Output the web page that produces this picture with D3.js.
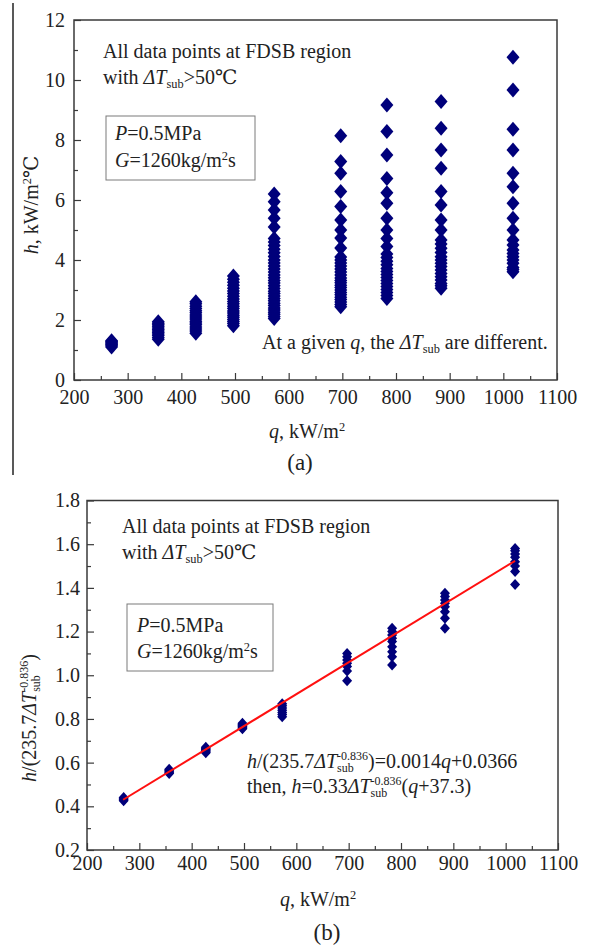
<!DOCTYPE html>
<html>
<head>
<meta charset="utf-8">
<script src="https://cdn.jsdelivr.net/npm/d3@7"></script>
<style>
    body { margin: 0; background: #fff; }
    svg text { font-family: "Liberation Serif", "Times New Roman", Times, "DejaVu Serif", serif !important; fill: #222; }
</style>
</head>
<body>
<svg id="fig" width="593" height="947"></svg>
<script>
    // heat flux levels, kW/m2 (one column of points per level)
    var qLevels = [270, 357, 427, 497, 573, 697, 783, 884, 1018];

    // panel (a): h, kW/m2C, read per column
    var hAt270 = [1.10, 1.14, 1.18, 1.21, 1.25, 1.28, 1.31];
    var hAt357 = [1.36, 1.42, 1.48, 1.53, 1.58, 1.63, 1.68, 1.73, 1.79, 1.84, 1.89, 1.94];
    var hAt427 = [1.56, 1.63, 1.70, 1.77, 1.84, 1.90, 1.96, 2.03, 2.10, 2.17, 2.24, 2.31, 2.38, 2.46, 2.54, 2.61];
    var hAt497 = [1.81, 1.88, 1.95, 2.02, 2.09, 2.16, 2.23, 2.30, 2.38, 2.46, 2.54, 2.62, 2.70, 2.79, 2.88, 2.97, 3.06, 3.16, 3.26, 3.36, 3.47];
    var hAt573 = [2.05, 2.12, 2.19, 2.26, 2.33, 2.40, 2.48, 2.56, 2.64, 2.72, 2.80, 2.88, 2.96, 3.05, 3.14, 3.23, 3.32, 3.41, 3.50, 3.60, 3.70, 3.80, 3.90, 4.00, 4.12, 4.24, 4.36, 4.48, 4.60, 4.72, 5.10, 5.39, 5.67, 5.94, 6.20];
    var hAt697 = [2.44, 2.52, 2.60, 2.68, 2.76, 2.84, 2.92, 3.00, 3.08, 3.16, 3.24, 3.32, 3.40, 3.50, 3.60, 3.70, 3.80, 3.90, 4.00, 4.10, 4.40, 4.73, 5.00, 5.33, 5.78, 6.28, 6.89, 7.28, 8.14];
    var hAt783 = [2.72, 2.82, 2.92, 3.02, 3.12, 3.22, 3.32, 3.42, 3.52, 3.62, 3.72, 3.84, 3.96, 4.08, 4.20, 4.45, 4.72, 5.00, 5.39, 5.89, 6.24, 6.72, 7.50, 8.28, 9.17];
    var hAt884 = [3.06, 3.14, 3.22, 3.33, 3.44, 3.55, 3.67, 3.78, 3.89, 4.00, 4.11, 4.25, 4.39, 4.53, 4.67, 5.00, 5.33, 5.83, 6.28, 7.06, 7.67, 8.39, 9.28];
    var hAt1018 = [3.61, 3.68, 3.75, 3.89, 4.00, 4.11, 4.22, 4.33, 4.50, 4.67, 5.00, 5.39, 5.89, 6.44, 6.89, 7.67, 8.36, 9.67, 10.76];
    var hColumns = [hAt270, hAt357, hAt427, hAt497, hAt573, hAt697, hAt783, hAt884, hAt1018];

    // panel (b): h/(235.7 dTsub^-0.836), read per column
    var rAt270 = [0.425, 0.430, 0.435, 0.440];
    var rAt357 = [0.550, 0.555, 0.560, 0.565, 0.570];
    var rAt427 = [0.645, 0.650, 0.655, 0.660, 0.665, 0.670];
    var rAt497 = [0.755, 0.760, 0.765, 0.770, 0.775, 0.780];
    var rAt573 = [0.810, 0.820, 0.830, 0.840, 0.850, 0.860, 0.870];
    var rAt697 = [0.975, 1.020, 1.040, 1.055, 1.070, 1.085, 1.100];
    var rAt783 = [1.047, 1.085, 1.108, 1.131, 1.154, 1.169, 1.184, 1.200, 1.215];
    var rAt884 = [1.215, 1.261, 1.291, 1.314, 1.330, 1.345, 1.360, 1.375];
    var rAt1018 = [1.415, 1.475, 1.500, 1.520, 1.540, 1.555, 1.570, 1.580];
    var rColumns = [rAt270, rAt357, rAt427, rAt497, rAt573, rAt697, rAt783, rAt884, rAt1018];

    // fitted line, end points
    var fitQ = [269, 1018];
    var fitR = [0.430, 1.524];

    // ticks
    var qTicks = [200, 300, 400, 500, 600, 700, 800, 900, 1000, 1100];
    var qMinor = [250, 350, 450, 550, 650, 750, 850, 950, 1050];
    var hTicks = [0, 2, 4, 6, 8, 10, 12];
    var hMinor = [1, 3, 5, 7, 9, 11];
    var rTicks = [0.2, 0.4, 0.6, 0.8, 1.0, 1.2, 1.4, 1.6, 1.8];
    var rMinor = [0.3, 0.5, 0.7, 0.9, 1.1, 1.3, 1.5, 1.7];

    var svg = d3.select("#fig");
    var navy = "#00007a";
    var frameColor = "#3a3a3a";
    var serif = "\"Liberation Serif\", \"Times New Roman\", Times, \"DejaVu Serif\", serif";

    // writes a line of text made of parts: {t, i (italic), size (em), shift (px down), back (stack over previous)}
    function richText(sel, parts, fontSize) {
        var shift = 0, prev = null;
        sel.attr("font-family", serif);
        parts.forEach(function (p) {
            var ts = sel.append("tspan").text(p.t);
            var s = p.shift || 0;
            if (s !== shift) { ts.attr("dy", s - shift); shift = s; }
            if (p.i) { ts.style("font-style", "italic"); }
            ts.style("font-size", (p.size ? p.size * fontSize : fontSize) + "px");
            if (p.back && prev) { ts.attr("dx", -prev.node().getComputedTextLength()); }
            prev = ts;
        });
        return sel;
    }

    function diamond(hw, hh) {
        return {
            draw: function (ctx) {
                ctx.moveTo(0, -hh);
                ctx.lineTo(hw, 0);
                ctx.lineTo(0, hh);
                ctx.lineTo(-hw, 0);
                ctx.closePath();
            }
        };
    }

    function drawPanel(opt) {
        var x = d3.scaleLinear().domain([200, 1100]).range([opt.left, opt.right]),
            y = d3.scaleLinear().domain(opt.yDomain).range([opt.bottom, opt.top]),
            g = svg.append("g");

        // Axes (ticks point inward)
        g.append("g")
            .attr("transform", "translate(0," + opt.bottom + ")")
            .call(d3.axisBottom(x).tickValues(qTicks).tickSizeInner(-7).tickSizeOuter(0).tickPadding(opt.xPad).tickFormat(d3.format("d")));
        g.append("g")
            .attr("transform", "translate(0," + opt.bottom + ")")
            .call(d3.axisBottom(x).tickValues(qMinor).tickSizeInner(-4).tickSizeOuter(0).tickFormat(""));
        g.append("g")
            .attr("transform", "translate(" + opt.left + ",0)")
            .call(d3.axisLeft(y).tickValues(opt.yTicks).tickSizeInner(-7).tickSizeOuter(0).tickPadding(opt.yPad).tickFormat(opt.yFormat));
        g.append("g")
            .attr("transform", "translate(" + opt.left + ",0)")
            .call(d3.axisLeft(y).tickValues(opt.yMinor).tickSizeInner(-4).tickSizeOuter(0).tickFormat(""));
        g.selectAll(".domain").remove();
        g.selectAll("g").attr("font-family", serif);
        g.selectAll(".tick line").attr("stroke", frameColor).attr("stroke-width", 1.2);
        g.selectAll(".tick text")
            .attr("font-family", serif)
            .style("font-size", "20px")
            .attr("fill", "#222");

        // Frame
        g.append("rect")
            .attr("x", opt.left).attr("y", opt.top)
            .attr("width", opt.right - opt.left).attr("height", opt.bottom - opt.top)
            .attr("fill", "none").attr("stroke", frameColor).attr("stroke-width", 1.5);

        // Points
        var pts = [];
        opt.columns.forEach(function (col, i) {
            col.forEach(function (v) { pts.push({ q: qLevels[i], v: v }); });
        });
        g.selectAll("path.pt").data(pts).enter().append("path")
            .attr("class", "pt")
            .attr("d", d3.symbol().type(diamond(opt.mw, opt.mh)))
            .attr("transform", function (d) { return "translate(" + x(d.q) + "," + y(d.v) + ")"; })
            .attr("fill", navy);

        // Fit line over the points
        if (opt.fit) {
            g.append("line")
                .attr("x1", x(opt.fit[0][0])).attr("y1", y(opt.fit[1][0]))
                .attr("x2", x(opt.fit[0][1])).attr("y2", y(opt.fit[1][1]))
                .attr("stroke", "#ff1010").attr("stroke-width", 2);
        }
        return g;
    }

    // ---------- panel (a) ----------
    var gA = drawPanel({
        left: 74, right: 557, top: 20, bottom: 380,
        yDomain: [0, 12], yTicks: hTicks, yMinor: hMinor, yFormat: d3.format("d"),
        xPad: 10, yPad: 9, columns: hColumns, mw: 6.5, mh: 7.5
    });

    richText(gA.append("text").attr("x", 103).attr("y", 58), [{ t: "All data points at FDSB region" }], 20);
    richText(gA.append("text").attr("x", 103).attr("y", 84),
        [{ t: "with " }, { t: "ΔT", i: true }, { t: "sub", size: 0.62, shift: 4 }, { t: ">50℃" }], 20);
    gA.append("rect").attr("x", 106).attr("y", 116).attr("width", 149).attr("height", 64)
        .attr("fill", "none").attr("stroke", "#7a7a7a").attr("stroke-width", 1);
    richText(gA.append("text").attr("x", 115).attr("y", 140), [{ t: "P", i: true }, { t: "=0.5MPa" }], 20);
    richText(gA.append("text").attr("x", 115).attr("y", 167),
        [{ t: "G", i: true }, { t: "=1260kg/m" }, { t: "2", size: 0.62, shift: -7 }, { t: "s" }], 20);
    richText(gA.append("text").attr("x", 262).attr("y", 349),
        [{ t: "At a given " }, { t: "q", i: true }, { t: ", the " }, { t: "ΔT", i: true },
         { t: "sub", size: 0.62, shift: 4 }, { t: " are different." }], 20);

    richText(gA.append("text").attr("x", 307).attr("y", 438).attr("text-anchor", "middle"),
        [{ t: "q", i: true }, { t: ", kW/m" }, { t: "2", size: 0.62, shift: -7 }], 20);
    richText(gA.append("text").attr("transform", "translate(38,205) rotate(-90)").attr("text-anchor", "middle"),
        [{ t: "h", i: true }, { t: ", kW/m" }, { t: "2", size: 0.62, shift: -7 }, { t: "℃" }], 20);
    richText(gA.append("text").attr("x", 300).attr("y", 470).attr("text-anchor", "middle"), [{ t: "(a)" }], 23);

    // left border line of the scanned panel
    svg.append("line").attr("x1", 13).attr("y1", 3).attr("x2", 13).attr("y2", 475)
        .attr("stroke", "#222").attr("stroke-width", 1.5);

    // ---------- panel (b) ----------
    var gB = drawPanel({
        left: 87, right: 558, top: 500.5, bottom: 850,
        yDomain: [0.2, 1.8], yTicks: rTicks, yMinor: rMinor, yFormat: d3.format(".1f"),
        xPad: 6, yPad: 7, columns: rColumns, mw: 5, mh: 5.5, fit: [fitQ, fitR]
    });

    richText(gB.append("text").attr("x", 122).attr("y", 533), [{ t: "All data points at FDSB region" }], 20);
    richText(gB.append("text").attr("x", 122).attr("y", 559),
        [{ t: "with " }, { t: "ΔT", i: true }, { t: "sub", size: 0.62, shift: 4 }, { t: ">50℃" }], 20);
    gB.append("rect").attr("x", 127).attr("y", 604).attr("width", 146).attr("height", 67)
        .attr("fill", "none").attr("stroke", "#7a7a7a").attr("stroke-width", 1);
    richText(gB.append("text").attr("x", 137).attr("y", 632), [{ t: "P", i: true }, { t: "=0.5MPa" }], 20);
    richText(gB.append("text").attr("x", 137).attr("y", 658),
        [{ t: "G", i: true }, { t: "=1260kg/m" }, { t: "2", size: 0.62, shift: -7 }, { t: "s" }], 20);

    richText(gB.append("text").attr("x", 247).attr("y", 768),
        [{ t: "h", i: true }, { t: "/(235.7" }, { t: "ΔT", i: true },
         { t: "sub", size: 0.6, shift: 4 }, { t: "-0.836", size: 0.6, shift: -8, back: true },
         { t: ")=0.0014" }, { t: "q", i: true }, { t: "+0.0366" }], 20);
    richText(gB.append("text").attr("x", 247).attr("y", 793),
        [{ t: "then, " }, { t: "h", i: true }, { t: "=0.33" }, { t: "ΔT", i: true },
         { t: "sub", size: 0.6, shift: 4 }, { t: "-0.836", size: 0.6, shift: -8, back: true },
         { t: "(" }, { t: "q", i: true }, { t: "+37.3)" }], 20);

    richText(gB.append("text").attr("x", 318).attr("y", 906).attr("text-anchor", "middle"),
        [{ t: "q", i: true }, { t: ", kW/m" }, { t: "2", size: 0.62, shift: -7 }], 20);
    richText(gB.append("text").attr("transform", "translate(36,718) rotate(-90)").attr("text-anchor", "middle"),
        [{ t: "h", i: true }, { t: "/(235.7" }, { t: "ΔT", i: true },
         { t: "sub", size: 0.6, shift: 4 }, { t: "-0.836", size: 0.6, shift: -8, back: true },
         { t: ")" }], 20);
    richText(gB.append("text").attr("x", 327).attr("y", 940).attr("text-anchor", "middle"), [{ t: "(b)" }], 23);
</script>
</body>
</html>
